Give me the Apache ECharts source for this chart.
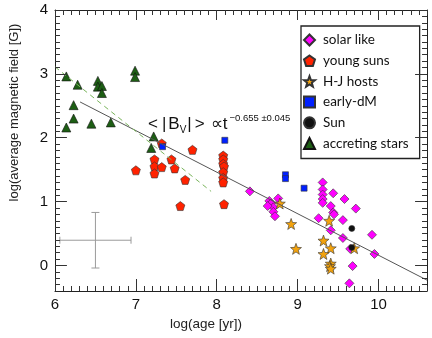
<!DOCTYPE html>
<html>
<head>
<meta charset="utf-8">
<script src="https://cdn.jsdelivr.net/npm/echarts@6/dist/echarts.min.js"></script>
<style>
  html, body { margin: 0; padding: 0; background: #fff; }
  #chart { width: 432px; height: 338px; }
</style>
</head>
<body>
<div id="chart"></div>
<script>
// [log age, log B]
const solarLike = [
  [8.41, 1.16], [8.65, 1.01], [8.67, 0.97], [8.76, 1.05], [8.70, 0.91], [8.63, 0.93],
  [8.70, 0.84], [8.72, 0.77], [9.31, 1.30], [9.31, 1.19], [9.31, 1.11], [9.31, 1.04],
  [9.31, 0.98], [9.44, 1.13], [9.58, 1.04], [9.72, 0.89], [9.41, 0.93], [9.44, 0.83],
  [9.45, 0.80], [9.56, 0.71], [9.26, 0.74], [9.41, 0.55], [9.56, 0.43], [9.92, 0.48],
  [9.65, 0.26], [9.95, 0.18], [9.68, -0.01], [9.64, -0.28]
]
const youngSuns = [
  [7.00, 1.49], [7.23, 1.66], [7.23, 1.55], [7.23, 1.44], [7.32, 1.91], [7.32, 1.54],
  [7.44, 1.66], [7.48, 1.52], [7.61, 1.34], [7.70, 1.81], [7.55, 0.93], [8.08, 1.72],
  [8.08, 1.66], [8.08, 1.59], [8.09, 1.55], [8.08, 1.46], [8.08, 1.37], [8.08, 1.30],
  [8.09, 0.96]
]
const hjHosts = [
  [8.78, 0.97], [8.92, 0.65], [8.98, 0.26], [9.39, 0.70], [9.32, 0.39], [9.41, 0.27],
  [9.32, 0.18], [9.41, 0.03], [9.40, -0.01], [9.41, -0.05], [9.70, 0.27]
]
const earlyDM = [[7.33, 1.86], [8.10, 1.96], [8.85, 1.42], [8.85, 1.36], [9.08, 1.21]]
const sun = [[9.67, 0.58], [9.67, 0.28]]
const accreting = [
  [6.14, 2.96], [6.28, 2.83], [6.53, 2.89], [6.53, 2.80], [6.58, 2.81], [6.58, 2.70],
  [6.23, 2.51], [6.23, 2.30], [6.14, 2.16], [6.45, 2.22], [6.69, 2.24], [6.99, 3.05],
  [6.99, 2.95], [7.22, 2.02], [7.19, 1.84]
]
const fitLine = [[6.31, 2.56], [10.6, -0.23]]
const youngFit = [[6.0, 3.11], [7.93, 1.16]]
// x, y, xerr, yerr
const typicalError = [[6.5, 0.395, 0.44, 0.435]]

const X_MIN = 6, X_MAX = 10.6, Y_MIN = -0.4, Y_MAX = 4

// tick positions every 0.1
const xTickVals = []
for (let i = Math.round(X_MIN * 10); i <= Math.round(X_MAX * 10); i++) xTickVals.push(i / 10)
const yTickVals = []
for (let i = Math.round(Y_MIN * 10); i <= Math.round(Y_MAX * 10); i++) yTickVals.push(i / 10)

const PENTAGON = 'path://M50,0 L97.6,34.5 L79.4,90.5 L20.6,90.5 L2.4,34.5 Z'
const STAR = 'path://M50,0 L62.34,33.01 L97.55,34.55 L69.97,56.49 L79.39,90.45 L50,71 L20.61,90.45 L30.03,56.49 L2.45,34.55 L37.66,33.01 Z'

const chart = echarts.init(document.getElementById('chart'))

// tick lengths in axis units (plot is ~374 x 281 px)
const PX_X = 374 / (X_MAX - X_MIN)
const PX_Y = 281 / (Y_MAX - Y_MIN)
const isMajor = v => Math.abs(v - Math.round(v)) < 1e-6

const tickSegments = []
xTickVals.forEach(v => {
  const lb = (isMajor(v) ? 12 : 5) / PX_Y
  const lt = (isMajor(v) ? 10 : 5) / PX_Y
  tickSegments.push({ coords: [[v, Y_MIN], [v, Y_MIN + lb]] })
  tickSegments.push({ coords: [[v, Y_MAX], [v, Y_MAX - lt]] })
})
yTickVals.forEach(v => {
  const l = (isMajor(v) ? 12 : 5) / PX_X
  tickSegments.push({ coords: [[X_MIN, v], [X_MIN + l, v]] })
  tickSegments.push({ coords: [[X_MAX, v], [X_MAX - l, v]] })
})

function frameAxis(position, min, max, labels) {
  return {
    type: 'value', position: position, min: min, max: max, splitNumber: 4,
    axisLine: { show: true, onZero: false, lineStyle: { color: '#222', width: 1 } },
    axisTick: { show: false },
    axisLabel: {
      show: labels, fontSize: 15, color: '#111', fontFamily: 'Liberation Sans', margin: 6,
      showMinLabel: false, showMaxLabel: false
    },
    splitLine: { show: false }
  }
}

const scatterBase = {
  type: 'scatter',
  itemStyle: { borderColor: '#333', borderWidth: 0.6, opacity: 1 },
  emphasis: { disabled: true }
}

const xBottom = frameAxis('bottom', X_MIN, X_MAX, true)
xBottom.axisLabel.showMinLabel = true
xBottom.name = 'log(age [yr])'
xBottom.nameLocation = 'middle'
xBottom.nameGap = 23
xBottom.nameTextStyle = { fontSize: 13.5, color: '#222', fontFamily: 'Liberation Sans', padding: [0, 70, 0, 0] }

const yLeft = frameAxis('left', Y_MIN, Y_MAX, true)
yLeft.axisLabel.showMaxLabel = true
yLeft.axisLabel.margin = 7
yLeft.name = 'log(average magnetic field [G])'
yLeft.nameLocation = 'middle'
yLeft.nameGap = 34
yLeft.nameTextStyle = { fontSize: 13, color: '#222', fontFamily: 'Liberation Sans', padding: [0, 0, 0, 76] }

chart.setOption({
  animation: false,
  backgroundColor: '#fff',
  grid: { left: 53, right: 5, top: 10, bottom: 47 },
  xAxis: [xBottom, frameAxis('top', X_MIN, X_MAX, false)],
  yAxis: [yLeft, frameAxis('right', Y_MIN, Y_MAX, false)],
  legend: {
    data: ['solar like', 'young suns', 'H-J hosts', 'early-dM', 'Sun', 'accreting stars'],
    orient: 'vertical',
    left: 301,
    top: 26,
    itemWidth: 11,
    itemHeight: 11,
    itemGap: 6.7,
    padding: [7, 11, 8, 2],
    borderColor: '#222',
    borderWidth: 1.3,
    backgroundColor: '#fff',
    selectedMode: false,
    textStyle: { fontFamily: 'Lato', fontSize: 13.5, color: '#111', padding: [0, 0, 0, 3] }
  },
  graphic: [{
    type: 'text',
    left: 148,
    top: 113,
    style: {
      text: '{l|<}{b||}{m|B}{s|V}{b||}{r|>}{m|∝t}{p|−0.655 ±0.045}',
      rich: {
        l: { fontSize: 17, lineHeight: 22, fontFamily: 'Liberation Sans', fill: '#111', padding: [0, 3, 0, 0] },
        b: { fontSize: 17, lineHeight: 22, fontFamily: 'Liberation Sans', fill: '#111', padding: [0, 2, 0, 1] },
        m: { fontSize: 17, lineHeight: 22, fontFamily: 'Liberation Sans', fill: '#111' },
        r: { fontSize: 17, lineHeight: 22, fontFamily: 'Liberation Sans', fill: '#111', padding: [0, 6, 0, 1] },
        s: { fontSize: 10, lineHeight: 10, fontFamily: 'Liberation Sans', fill: '#111', verticalAlign: 'bottom' },
        p: { fontSize: 9.5, lineHeight: 10, fontFamily: 'Liberation Sans', fill: '#111', verticalAlign: 'top', padding: [0, 0, 0, 2] }
      }
    }
  }],
  series: [
    {
      // inward ticks on all four sides of the frame
      type: 'lines',
      coordinateSystem: 'cartesian2d',
      silent: true,
      polyline: false,
      data: tickSegments,
      lineStyle: { color: '#333', width: 1, opacity: 1 },
      z: 5
    },
    {
      type: 'custom',
      silent: true,
      data: typicalError,
      renderItem: function(params, api) {
        const x = api.value(0), y = api.value(1), dx = api.value(2), dy = api.value(3)
        const l = api.coord([x - dx, y]), r = api.coord([x + dx, y])
        const t = api.coord([x, y + dy]), b = api.coord([x, y - dy])
        const st = { stroke: '#9a9a9a', lineWidth: 1 }
        const seg = (x1, y1, x2, y2) => ({ type: 'line', shape: { x1: x1, y1: y1, x2: x2, y2: y2 }, style: st })
        return {
          type: 'group',
          children: [
            seg(l[0], l[1], r[0], r[1]),
            seg(t[0], t[1], b[0], b[1]),
            seg(l[0], l[1] - 3.5, l[0], l[1] + 3.5),
            seg(r[0], r[1] - 3.5, r[0], r[1] + 3.5),
            seg(t[0] - 4, t[1], t[0] + 4, t[1]),
            seg(b[0] - 4, b[1], b[0] + 4, b[1])
          ]
        }
      }
    },
    {
      type: 'line', data: fitLine, symbol: 'none', silent: true,
      lineStyle: { color: '#555', width: 1 }
    },
    {
      type: 'line', data: youngFit, symbol: 'none', silent: true,
      lineStyle: { color: '#7ab55c', width: 1, type: [5, 4] }
    },
    Object.assign({}, scatterBase, { name: 'solar like', data: solarLike, symbol: 'diamond', symbolSize: 9, itemStyle: Object.assign({}, scatterBase.itemStyle, { color: '#ff00ff' }) }),
    Object.assign({}, scatterBase, { name: 'young suns', data: youngSuns, symbol: PENTAGON, symbolSize: 9, itemStyle: Object.assign({}, scatterBase.itemStyle, { color: '#ff2200' }) }),
    Object.assign({}, scatterBase, { name: 'H-J hosts', data: hjHosts, symbol: STAR, symbolSize: 11, itemStyle: Object.assign({}, scatterBase.itemStyle, { color: '#f2a20e' }) }),
    Object.assign({}, scatterBase, { name: 'early-dM', data: earlyDM, symbol: 'rect', symbolSize: 6, itemStyle: Object.assign({}, scatterBase.itemStyle, { color: '#0020ff' }) }),
    Object.assign({}, scatterBase, { name: 'Sun', data: sun, symbol: 'circle', symbolSize: 6, itemStyle: Object.assign({}, scatterBase.itemStyle, { color: '#111' }) }),
    Object.assign({}, scatterBase, { name: 'accreting stars', data: accreting, symbol: 'triangle', symbolSize: 9, itemStyle: Object.assign({}, scatterBase.itemStyle, { color: '#1d5e14', borderColor: '#111' }) })
  ]
})
</script>
</body>
</html>
